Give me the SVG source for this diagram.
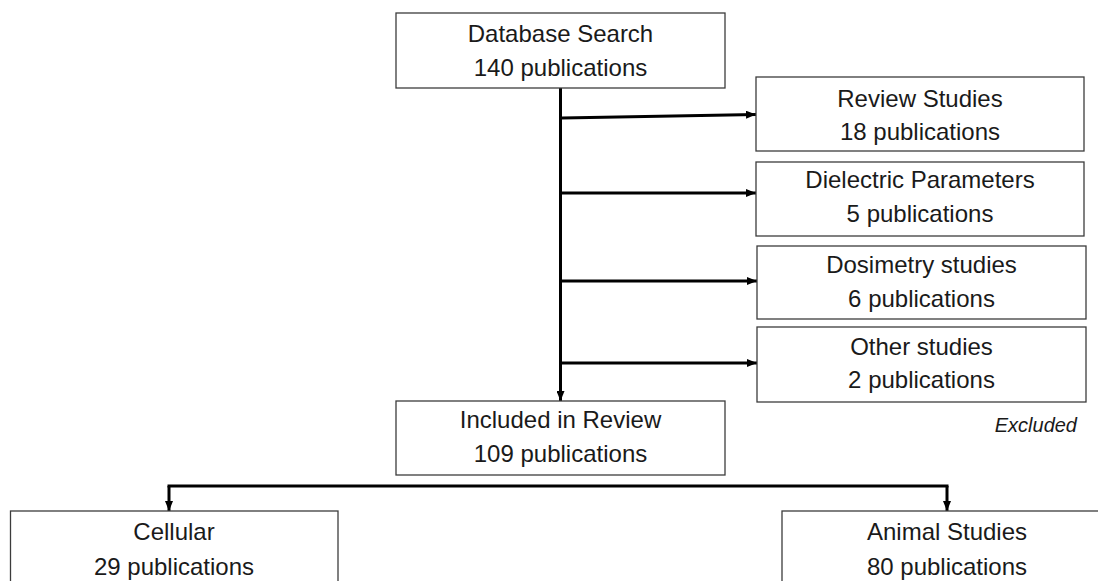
<svg xmlns="http://www.w3.org/2000/svg" width="1098" height="581" viewBox="0 0 1098 581">
<style>
.box{fill:#ffffff;stroke:#3c3c3c;stroke-width:1.3}
.t{font-family:"Liberation Sans",Arial,sans-serif;font-size:24px;fill:#1a1a1a;text-anchor:middle}
.ex{font-family:"Liberation Sans",Arial,sans-serif;font-size:20px;font-style:italic;fill:#1a1a1a;text-anchor:end}
.c{fill:none;stroke:#000000;stroke-width:3}
</style>
<defs>
<marker id="ah" markerUnits="userSpaceOnUse" markerWidth="10" markerHeight="8" viewBox="0 0 10 8" refX="10" refY="4" orient="auto">
<path d="M0,0 L10,4 L0,8 Z" fill="#000000"/>
</marker>
</defs>
<rect width="1098" height="581" fill="#ffffff"/>
<g id="connectors">
<line class="c" x1="560.5" y1="88" x2="560.5" y2="401" marker-end="url(#ah)"/>
<line class="c" x1="562" y1="118" x2="756" y2="114.5" marker-end="url(#ah)"/>
<line class="c" x1="562" y1="193" x2="756" y2="193" marker-end="url(#ah)"/>
<line class="c" x1="562" y1="281" x2="757" y2="281" marker-end="url(#ah)"/>
<line class="c" x1="562" y1="363" x2="757" y2="363" marker-end="url(#ah)"/>
<line class="c" x1="167.5" y1="486" x2="948.5" y2="486"/>
<line class="c" x1="169" y1="486" x2="169" y2="511" marker-end="url(#ah)"/>
<line class="c" x1="947" y1="486" x2="947" y2="511" marker-end="url(#ah)"/>
</g>
<g id="database-search">
<rect class="box" x="396" y="13" width="329" height="75"/>
<text class="t" x="560.5" y="42">Database Search</text>
<text class="t" x="560.5" y="76">140 publications</text>
</g>
<g id="review-studies">
<rect class="box" x="756" y="77" width="328" height="74"/>
<text class="t" x="920" y="107">Review Studies</text>
<text class="t" x="920" y="140">18 publications</text>
</g>
<g id="dielectric-parameters">
<rect class="box" x="756" y="162" width="328" height="74"/>
<text class="t" x="920" y="188">Dielectric Parameters</text>
<text class="t" x="920" y="222">5 publications</text>
</g>
<g id="dosimetry-studies">
<rect class="box" x="757" y="246" width="329" height="73"/>
<text class="t" x="921.5" y="273">Dosimetry studies</text>
<text class="t" x="921.5" y="307">6 publications</text>
</g>
<g id="other-studies">
<rect class="box" x="757" y="327" width="329" height="75"/>
<text class="t" x="921.5" y="355">Other studies</text>
<text class="t" x="921.5" y="388">2 publications</text>
</g>
<g id="excluded-label">
<text class="ex" x="1077" y="432">Excluded</text>
</g>
<g id="included-in-review">
<rect class="box" x="396" y="401" width="329" height="74"/>
<text class="t" x="560.5" y="428">Included in Review</text>
<text class="t" x="560.5" y="462">109 publications</text>
</g>
<g id="cellular">
<rect class="box" x="10.5" y="511" width="327.5" height="80"/>
<text class="t" x="174" y="540">Cellular</text>
<text class="t" x="174" y="575">29 publications</text>
</g>
<g id="animal-studies">
<rect class="box" x="782" y="511" width="330" height="80"/>
<text class="t" x="947" y="540">Animal Studies</text>
<text class="t" x="947" y="575">80 publications</text>
</g>
</svg>
